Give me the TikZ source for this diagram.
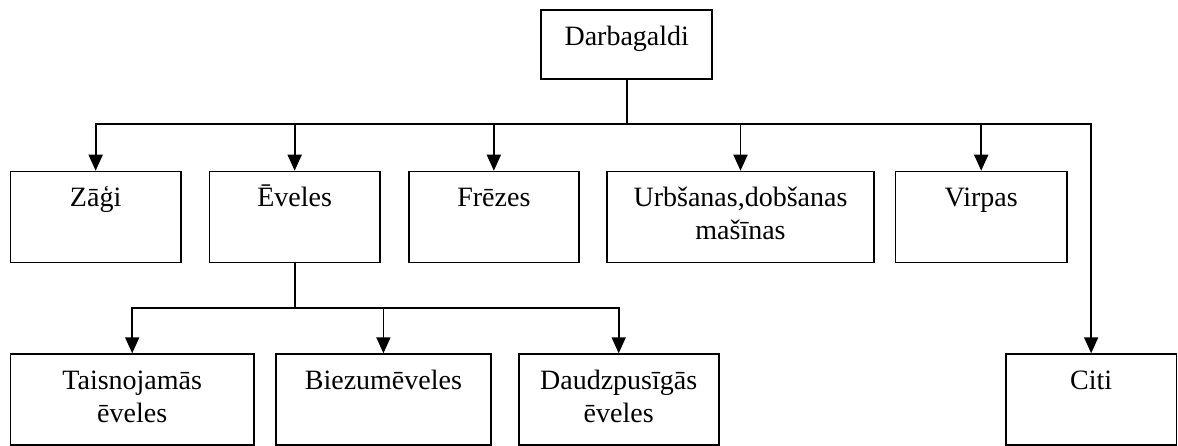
\documentclass[tikz,border=0pt]{standalone}
\usepackage{fontspec}
\setmainfont{Liberation Serif}
\usetikzlibrary{arrows.meta}

\begin{document}
\begin{tikzpicture}[
    x=1pt, y=-1pt,
    >={Triangle[length=16pt,width=14pt]},
    line width=1.8pt,
    box/.style={draw, anchor=north west, inner sep=0pt, align=center, font=\fontsize{28}{33}\selectfont, text height=35pt, text depth=56pt},
    box2/.style={box, text height=68pt, text depth=23pt}
]
\useasboundingbox (0,0) rectangle (1178,446);

\node[box, minimum width=170.9pt, text depth=33.7pt] (darb) at (540.4,9.3) {Darbagaldi};

\node[box, minimum width=170.3pt] (zagi) at (9.6,170.7) {Zāģi};
\node[box, minimum width=170.3pt] (eveles) at (208.6,170.7) {Ēveles};
\node[box, minimum width=169.9pt] (frezes) at (408,170.7) {Frēzes};
\node[box2, minimum width=267.2pt] (urb) at (606,170.7) {Urbšanas,dobšanas\\mašīnas};
\node[box, minimum width=171.4pt] (virp) at (894.6,170.7) {Virpas};

\node[box2, minimum width=243.4pt] (tais) at (9.6,353.3) {Taisnojamās\\ēveles};
\node[box, minimum width=215.4pt] (biez) at (274.8,353.3) {Biezumēveles};
\node[box2, minimum width=200pt] (daudz) at (517.8,353.3) {Daudzpusīgās\\ēveles};
\node[box, minimum width=170.5pt] (citi) at (1005,353.3) {Citi};

\coordinate (hub) at (0,124);
\coordinate (ehub) at (0,307.7);

% main branch
\draw (darb.south) -- (darb.south |- hub);
\draw[<->] (zagi.north) -- (zagi.north |- hub) -- (citi.north |- hub) -- (citi.north);
\foreach \n in {eveles,frezes,urb,virp}
    \draw[->] (\n.north |- hub) -- (\n.north);

% eveles branch
\draw (eveles.south) -- (eveles.south |- ehub);
\draw[<->] (tais.north) -- (tais.north |- ehub) -- (daudz.north |- ehub) -- (daudz.north);
\draw[->] (biez.north |- ehub) -- (biez.north);
\end{tikzpicture}
\end{document}
